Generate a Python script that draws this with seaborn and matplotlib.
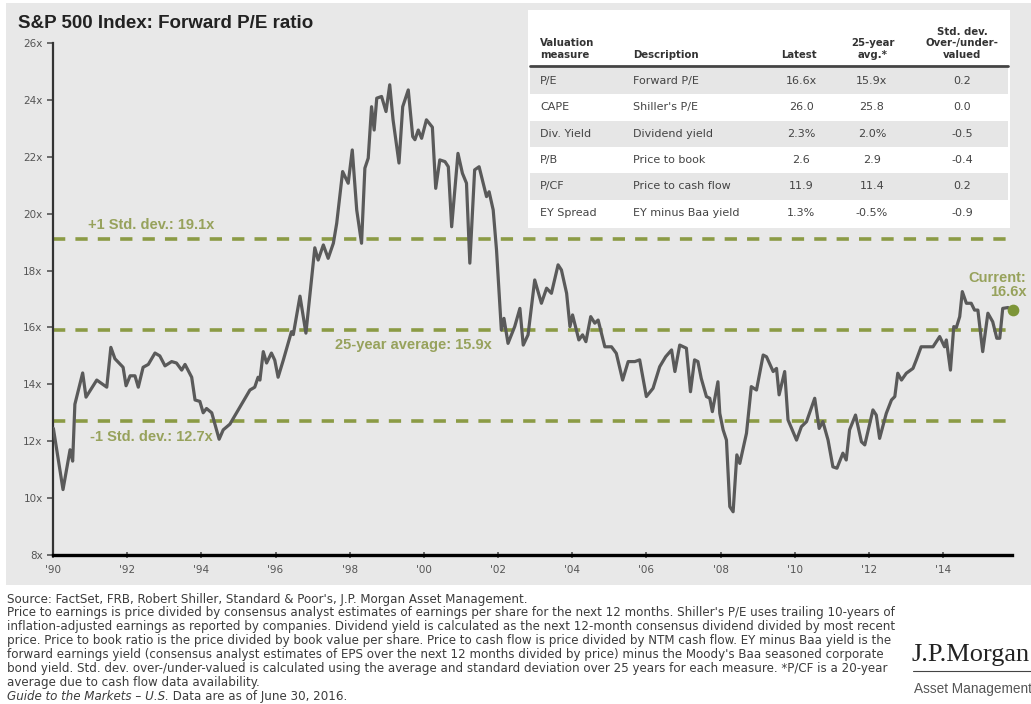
import matplotlib
matplotlib.use("Agg")
import matplotlib.pyplot as plt
from matplotlib.patches import Rectangle
from matplotlib.lines import Line2D
import seaborn as sns
import pandas as pd

# Forward P/E (decimal year, ratio)
years = [
    1990.01, 1990.27, 1990.46, 1990.53, 1990.59, 1990.80, 1990.89, 1991.18, 1991.45, 1991.56,
    1991.67, 1991.89, 1991.97, 1992.08, 1992.21, 1992.30, 1992.43, 1992.57, 1992.75, 1992.88,
    1993.02, 1993.20, 1993.33, 1993.47, 1993.56, 1993.74, 1993.83, 1993.96, 1994.05, 1994.14,
    1994.28, 1994.48, 1994.59, 1994.77, 1995.04, 1995.31, 1995.44, 1995.53, 1995.58, 1995.67,
    1995.76, 1995.89, 1995.98, 1996.07, 1996.21, 1996.43, 1996.48, 1996.66, 1996.82, 1997.06,
    1997.15, 1997.29, 1997.42, 1997.56, 1997.65, 1997.81, 1997.96, 1998.07, 1998.19, 1998.32,
    1998.41, 1998.50, 1998.59, 1998.66, 1998.73, 1998.86, 1998.98, 1999.08, 1999.17, 1999.33,
    1999.43, 1999.58, 1999.70, 1999.76, 1999.85, 1999.94, 2000.07, 2000.23, 2000.32, 2000.43,
    2000.57, 2000.66, 2000.75, 2000.92, 2001.04, 2001.15, 2001.24, 2001.37, 2001.49, 2001.69,
    2001.76, 2001.87, 2001.96, 2002.09, 2002.16, 2002.27, 2002.45, 2002.59, 2002.68, 2002.81,
    2002.99, 2003.17, 2003.31, 2003.44, 2003.62, 2003.71, 2003.85, 2003.94, 2004.01, 2004.18,
    2004.28, 2004.37, 2004.50, 2004.61, 2004.70, 2004.88, 2005.06, 2005.19, 2005.36, 2005.51,
    2005.69, 2005.82, 2006.00, 2006.18, 2006.36, 2006.52, 2006.68, 2006.77, 2006.90, 2007.08,
    2007.19, 2007.30, 2007.39, 2007.48, 2007.62, 2007.71, 2007.78, 2007.93, 2007.98, 2008.07,
    2008.16, 2008.25, 2008.34, 2008.44, 2008.52, 2008.70, 2008.83, 2008.97, 2009.15, 2009.24,
    2009.42, 2009.51, 2009.58, 2009.73, 2009.82, 2010.05, 2010.18, 2010.32, 2010.54, 2010.66,
    2010.76, 2010.90, 2011.03, 2011.14, 2011.30, 2011.39, 2011.48, 2011.64, 2011.80, 2011.89,
    2012.11, 2012.20, 2012.29, 2012.47, 2012.61, 2012.70, 2012.78, 2012.88, 2013.01, 2013.19,
    2013.28, 2013.41, 2013.59, 2013.73, 2013.91, 2014.04, 2014.09, 2014.20, 2014.29, 2014.36,
    2014.45, 2014.52, 2014.63, 2014.76, 2014.85, 2014.94, 2015.07, 2015.21, 2015.34, 2015.45,
    2015.53, 2015.61, 2015.75, 2015.88,
]
pe_ratio = [
    12.45, 10.30, 11.70, 11.30, 13.30, 14.40, 13.55, 14.15, 13.90, 15.30,
    14.90, 14.60, 13.95, 14.30, 14.30, 13.90, 14.60, 14.70, 15.10, 15.00,
    14.65, 14.80, 14.75, 14.50, 14.70, 14.25, 13.45, 13.40, 13.00, 13.15,
    13.00, 12.07, 12.40, 12.60, 13.20, 13.80, 13.90, 14.25, 14.15, 15.15,
    14.75, 15.10, 14.85, 14.25, 14.85, 15.85, 15.75, 17.10, 15.80, 18.80,
    18.37, 18.90, 18.43, 18.96, 19.66, 21.48, 21.07, 22.24, 20.13, 18.96,
    21.60, 21.95, 23.76, 22.94, 24.06, 24.12, 23.59, 24.53, 23.30, 21.78,
    23.76, 24.35, 22.71, 22.60, 22.94, 22.65, 23.30, 23.04, 20.89, 21.89,
    21.83, 21.65, 19.54, 22.12, 21.42, 21.07, 18.26, 21.54, 21.65, 20.60,
    20.77, 20.13, 18.72, 15.91, 16.32, 15.44, 16.03, 16.67, 15.38, 15.74,
    17.67, 16.85, 17.38, 17.20, 18.20, 18.02, 17.20, 16.03, 16.44, 15.56,
    15.74, 15.50, 16.38, 16.15, 16.26, 15.32, 15.32, 15.09, 14.15, 14.80,
    14.80, 14.86, 13.57, 13.86, 14.62, 14.97, 15.21, 14.45, 15.38, 15.27,
    13.74, 14.86, 14.80, 14.21, 13.57, 13.51, 13.04, 14.09, 12.98, 12.40,
    12.04, 9.70, 9.52, 11.52, 11.22, 12.28, 13.92, 13.80, 15.03, 14.97,
    14.45, 14.56, 13.63, 14.45, 12.75, 12.04, 12.51, 12.69, 13.51, 12.45,
    12.69, 12.04, 11.10, 11.05, 11.58, 11.34, 12.40, 12.92, 11.98, 11.87,
    13.10, 12.92, 12.10, 12.98, 13.45, 13.57, 14.39, 14.15, 14.39, 14.56,
    14.86, 15.32, 15.32, 15.32, 15.68, 15.32, 15.56, 14.50, 16.03, 16.00,
    16.38, 17.26, 16.85, 16.85, 16.61, 16.61, 15.15, 16.50, 16.20, 15.62,
    15.62, 16.67, 16.70, 16.55,
]

avg_25yr = 15.9
std_plus = 19.1
std_minus = 12.7
current_pe = 16.6

x_ticks = list(range(1990, 2016, 2))
x_tick_labels = ["'90", "'92", "'94", "'96", "'98", "'00", "'02", "'04", "'06", "'08", "'10", "'12", "'14"]
y_ticks = [8, 10, 12, 14, 16, 18, 20, 22, 24, 26]
y_tick_labels = ["8x", "10x", "12x", "14x", "16x", "18x", "20x", "22x", "24x", "26x"]

table_measures = ["P/E", "CAPE", "Div. Yield", "P/B", "P/CF", "EY Spread"]
table_desc = ["Forward P/E", "Shiller's P/E", "Dividend yield", "Price to book",
              "Price to cash flow", "EY minus Baa yield"]
table_latest = ["16.6x", "26.0", "2.3%", "2.6", "11.9", "1.3%"]
table_avg = ["15.9x", "25.8", "2.0%", "2.9", "11.4", "-0.5%"]
table_std = ["0.2", "0.0", "-0.5", "-0.4", "0.2", "-0.9"]

footnotes = [
    "Source: FactSet, FRB, Robert Shiller, Standard & Poor's, J.P. Morgan Asset Management.",
    "Price to earnings is price divided by consensus analyst estimates of earnings per share for the next 12 months. Shiller's P/E uses trailing 10-years of",
    "inflation-adjusted earnings as reported by companies. Dividend yield is calculated as the next 12-month consensus dividend divided by most recent",
    "price. Price to book ratio is the price divided by book value per share. Price to cash flow is price divided by NTM cash flow. EY minus Baa yield is the",
    "forward earnings yield (consensus analyst estimates of EPS over the next 12 months divided by price) minus the Moody's Baa seasoned corporate",
    "bond yield. Std. dev. over-/under-valued is calculated using the average and standard deviation over 25 years for each measure. *P/CF is a 20-year",
    "average due to cash flow data availability.",
]

W, H = 1031, 704
OLIVE = "#8b9b45"
OLIVE_TXT = "#97a25c"
LINE_GREY = "#5a5a5a"
WIDE = ["DejaVu Sans"]


def fx(px):
    return px / W


def fy(py):
    return 1 - py / H


sns.set_style("ticks")
plt.rcParams["font.family"] = ["Liberation Sans", "DejaVu Sans"]

fig = plt.figure(figsize=(W / 100, H / 100), dpi=100)
fig.patch.set_facecolor("white")

# grey panel behind the chart
fig.add_artist(Rectangle((fx(6), fy(585)), fx(W - 6), 582 / H, transform=fig.transFigure,
                         facecolor="#e8e8e8", edgecolor="none", zorder=0))

ax = fig.add_axes([fx(53), fy(555), fx(1012 - 53), (555 - 43) / H])
ax.set_facecolor("none")

df = pd.DataFrame({"year": years, "pe": pe_ratio})
sns.lineplot(data=df, x="year", y="pe", ax=ax, color=LINE_GREY, linewidth=2.3, zorder=3)

for level in [std_plus, avg_25yr, std_minus]:
    ax.axhline(level, color=OLIVE, linewidth=2.6, dashes=(3.4, 2.8), zorder=2)

ax.text(1990.95, 19.6, "+1 Std. dev.: 19.1x", color=OLIVE_TXT, fontsize=10.5,
        fontweight="bold", va="center", ha="left")
ax.text(1997.6, 15.38, "25-year average: 15.9x", color=OLIVE_TXT, fontsize=10.5,
        fontweight="bold", va="center", ha="left")
ax.text(1991.0, 12.15, "-1 Std. dev.: 12.7x", color=OLIVE_TXT, fontsize=10.5,
        fontweight="bold", va="center", ha="left")
ax.text(2016.25, 17.5, "Current:\n16.6x", color=OLIVE_TXT, fontsize=10.5,
        fontweight="bold", va="center", ha="right", linespacing=1.0, clip_on=False)
ax.scatter([years[-1]], [current_pe], s=55, color="#7d9538", zorder=4, clip_on=False)

ax.set_xlim(1990, 2015.86)
ax.set_ylim(8, 26)
ax.set_xticks(x_ticks)
ax.set_xticklabels(x_tick_labels, family=WIDE)
ax.set_yticks(y_ticks)
ax.set_yticklabels(y_tick_labels, family=WIDE)
ax.set_xlabel("")
ax.set_ylabel("")
ax.tick_params(axis="both", labelsize=7.5, colors="#555555", length=4, width=1.2)
ax.tick_params(axis="x", direction="inout", pad=5)
for side in ["top", "right"]:
    ax.spines[side].set_visible(False)
ax.spines["left"].set_color("#333333")
ax.spines["left"].set_linewidth(1.6)
ax.spines["bottom"].set_color("black")
ax.spines["bottom"].set_linewidth(2.4)

fig.text(fx(18), fy(23), "S&P 500 Index: Forward P/E ratio", fontsize=13.5,
         fontweight="bold", color="#222222", va="center", ha="left")

# valuation table
t_left, t_right, t_top, t_bot = 528, 1010, 10, 228
fig.add_artist(Rectangle((fx(t_left), fy(t_bot)), fx(t_right - t_left), (t_bot - t_top) / H,
                         transform=fig.transFigure, facecolor="white", edgecolor="none", zorder=1))
row_h = 26.3
row_top = 68
for i in range(len(table_measures)):
    y0 = row_top + i * row_h
    if i % 2 == 0:
        fig.add_artist(Rectangle((fx(t_left + 2), fy(y0 + row_h)), fx(t_right - t_left - 4), row_h / H,
                                 transform=fig.transFigure, facecolor="#e6e6e6",
                                 edgecolor="none", zorder=1))
    yc = fy(y0 + row_h / 2)
    kw = dict(fontsize=8.0, color="#444444", va="center", zorder=5, family=WIDE)
    fig.text(fx(540), yc, table_measures[i], ha="left", **kw)
    fig.text(fx(633), yc, table_desc[i], ha="left", **kw)
    fig.text(fx(801), yc, table_latest[i], ha="center", **kw)
    fig.text(fx(872), yc, table_avg[i], ha="center", **kw)
    fig.text(fx(962), yc, table_std[i], ha="center", **kw)

fig.add_artist(Line2D([fx(t_left + 2), fx(t_right - 2)], [fy(66), fy(66)], transform=fig.transFigure,
                      color="#444444", linewidth=2.0, zorder=5))
hkw = dict(fontsize=7.3, fontweight="bold", color="#333333", va="bottom", linespacing=1.2,
           zorder=5, family=WIDE)
fig.text(fx(540), fy(60), "Valuation\nmeasure", ha="left", **hkw)
fig.text(fx(633), fy(60), "Description", ha="left", **hkw)
fig.text(fx(799), fy(60), "Latest", ha="center", **hkw)
fig.text(fx(873), fy(60), "25-year\navg.*", ha="center", **hkw)
fig.text(fx(962), fy(60), "Std. dev.\nOver-/under-\nvalued", ha="center", **hkw)

# footnotes
foot_y = 599
foot_step = 13.9
foot_size = 8.6
for i, line in enumerate(footnotes):
    fig.text(fx(7), fy(foot_y + i * foot_step), line, fontsize=foot_size, color="#3c3c3c",
             va="center", ha="left", family=WIDE)
guide = fig.text(fx(7), fy(foot_y + 7 * foot_step), "Guide to the Markets \u2013 U.S.", fontsize=foot_size,
                 color="#3c3c3c", style="italic", va="center", ha="left", family=WIDE)
ax.annotate(" Data are as of June 30, 2016.", xy=(1, 0.5), xycoords=guide, fontsize=foot_size,
            color="#3c3c3c", va="center", ha="left", annotation_clip=False, family=WIDE)

# logo
fig.text(fx(912), fy(655), "J.P.Morgan", family=["Liberation Serif", "DejaVu Serif"],
         fontsize=19, color="#222222", va="center", ha="left")
fig.add_artist(Line2D([fx(913), fx(1031)], [fy(671), fy(671)], transform=fig.transFigure,
                      color="#444444", linewidth=0.8))
fig.text(fx(914), fy(689), "Asset Management", family=["Liberation Sans Narrow", "Liberation Sans"],
         fontsize=9.8, color="#555555", va="center", ha="left")

fig.savefig("out.png", dpi=100)
